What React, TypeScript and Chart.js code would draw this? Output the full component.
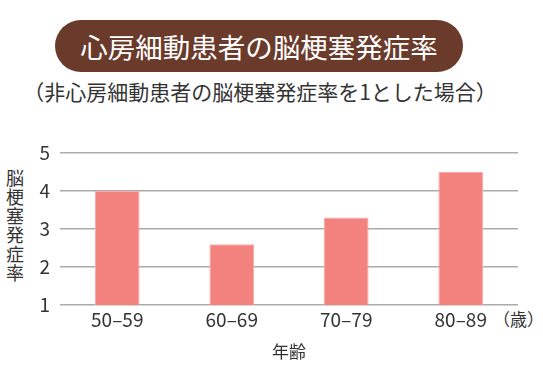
import React, { useEffect, useRef } from 'react';
import { Chart, registerables } from 'chart.js';

Chart.register(...registerables);

const categories = ['50–59', '60–69', '70–79', '80–89'];
const rates = [4.0, 2.6, 3.3, 4.5];
const yMin = 1;
const yMax = 5;
const yStep = 1;
const titleText = '心房細動患者の脳梗塞発症率';
const subtitleText = '（非心房細動患者の脳梗塞発症率を1とした場合）';
const yTitleText = '脳梗塞発症率';
const xTitleText = '年齢';
const unitText = '（歳）';

const FONT = '"Noto Sans CJK JP", "Noto Sans", sans-serif';
const TEXT = '#333333';

export default function App() {
  const canvasRef = useRef<HTMLCanvasElement | null>(null);

  useEffect(() => {
    document.body.style.margin = '0';
    const ctx = canvasRef.current;
    if (!ctx) return;
    const chart = new Chart(ctx, {
      type: 'bar',
      data: {
        labels: categories,
        datasets: [
          {
            data: rates,
            backgroundColor: '#f3817e',
            borderColor: '#f7aaa7',
            borderWidth: 1,
            barPercentage: 0.39,
            categoryPercentage: 1,
          },
        ],
      },
      options: {
        animation: false,
        responsive: false,
        maintainAspectRatio: false,
        layout: { padding: { top: 23, right: 25, bottom: 22, left: 0 } },
        plugins: { legend: { display: false }, tooltip: { enabled: false } },
        scales: {
          x: {
            grid: { display: false, drawTicks: false },
            border: { display: false },
            ticks: { color: TEXT, font: { family: FONT, size: 19 }, padding: 3 },
            title: {
              display: true,
              text: xTitleText,
              color: TEXT,
              font: { family: FONT, size: 17 },
              padding: { top: 2, bottom: 0 },
            },
            afterFit: (s: any) => {
              s.height = 57;
            },
          },
          y: {
            min: yMin,
            max: yMax,
            ticks: { stepSize: yStep, color: TEXT, font: { family: FONT, size: 19 }, padding: 10 },
            grid: { color: '#ababab', lineWidth: 1.5, drawTicks: false },
            border: { display: false },
            afterFit: (s: any) => {
              s.width = 60;
            },
          },
        },
      },
    });
    return () => chart.destroy();
  }, []);

  return (
    <div style={{ position: 'absolute', left: 0, top: 0, width: 543, height: 384, background: '#fff', fontFamily: FONT }}>
      <div
        style={{
          position: 'absolute',
          left: 55,
          top: 20,
          width: 408,
          height: 52,
          borderRadius: 26,
          background: '#6a3a2b',
          color: '#fff',
          fontSize: 27.5,
          lineHeight: '52px',
          textAlign: 'center',
          whiteSpace: 'nowrap',
        }}
      >
        {titleText}
      </div>
      <div
        style={{
          position: 'absolute',
          left: 0,
          top: 76,
          width: 520,
          height: 30,
          color: TEXT,
          fontSize: 21,
          lineHeight: '30px',
          textAlign: 'center',
          whiteSpace: 'nowrap',
        }}
      >
        {subtitleText}
      </div>
      <div
        style={{
          position: 'absolute',
          left: 5,
          top: 169,
          width: 20,
          writingMode: 'vertical-rl',
          color: TEXT,
          fontSize: 18,
          lineHeight: '20px',
          letterSpacing: 1,
        }}
      >
        {yTitleText}
      </div>
      <div
        style={{
          position: 'absolute',
          left: 493,
          top: 306,
          color: TEXT,
          fontSize: 17,
          lineHeight: '26px',
          whiteSpace: 'nowrap',
        }}
      >
        {unitText}
      </div>
      <canvas ref={canvasRef} width={543} height={254} style={{ position: 'absolute', left: 0, top: 130, width: 543, height: 254 }} />
    </div>
  );
}
